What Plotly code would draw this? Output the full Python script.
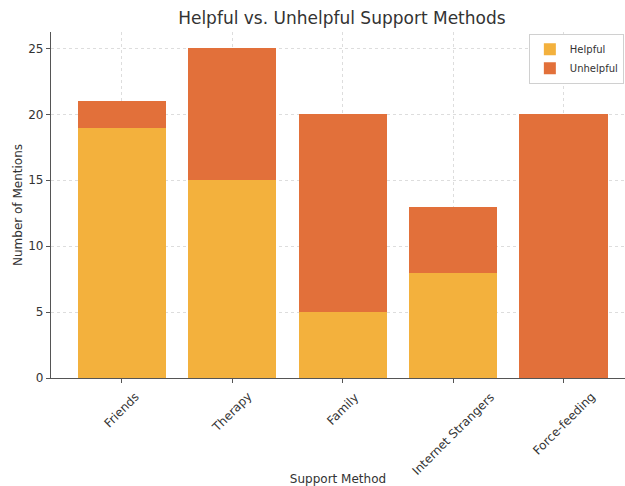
import plotly.graph_objects as go

categories = ["Friends", "Therapy", "Family", "Internet Strangers", "Force-feeding"]
helpful = [19, 15, 5, 8, 0]
unhelpful = [2, 10, 15, 5, 20]
y_ticks = [0, 5, 10, 15, 20, 25]

FONT = "DejaVu Sans"
TXT = "#333333"

fig = go.Figure()
fig.add_trace(go.Bar(x=categories, y=helpful, name="Helpful",
                     marker=dict(color="#F3B13D", line=dict(width=0)), width=0.8))
fig.add_trace(go.Bar(x=categories, y=unhelpful, name="Unhelpful",
                     marker=dict(color="#E2703A", line=dict(width=0)), width=0.8))

for c in categories:
    fig.add_annotation(x=c, xref="x", y=0, yref="paper", text=c, textangle=-45,
                       showarrow=False, xanchor="center", yanchor="top", yshift=-9,
                       font=dict(family=FONT, size=12, color=TXT))

fig.update_layout(
    barmode="stack",
    width=625, height=486,
    margin=dict(l=51, r=0, t=32, b=108),
    paper_bgcolor="white", plot_bgcolor="white",
    font=dict(family=FONT, size=12, color=TXT),
    title=dict(text="Helpful vs. Unhelpful Support Methods", x=0.547, xanchor="center",
               y=0.962, yanchor="middle", font=dict(size=17, color=TXT)),
    legend=dict(x=0.998, y=0.995, xanchor="right", yanchor="top",
                bgcolor="white", bordercolor="#d0d0d0", borderwidth=1,
                font=dict(size=10, color=TXT), traceorder="normal",
                tracegroupgap=0, itemwidth=30),
    bargap=0.2,
)
fig.update_xaxes(
    type="category", range=[-0.64, 4.555], showticklabels=False,
    showgrid=True, gridcolor="#dddddd", griddash="dot", gridwidth=1,
    showline=True, linecolor="#555555", linewidth=1.2,
    ticks="outside", ticklen=4, tickcolor="#555555",
    title=dict(text="Support Method", standoff=94, font=dict(size=12, color=TXT)),
)
fig.update_yaxes(
    range=[0, 26.25], tickvals=y_ticks,
    showgrid=True, gridcolor="#dddddd", griddash="dot", gridwidth=1,
    showline=True, linecolor="#555555", linewidth=1.2,
    ticks="outside", ticklen=4, tickcolor="#555555",
    tickfont=dict(size=12, color=TXT), zeroline=False,
    title=dict(text="Number of Mentions", standoff=3, font=dict(size=12, color=TXT)),
)
fig.write_html("out.html")
